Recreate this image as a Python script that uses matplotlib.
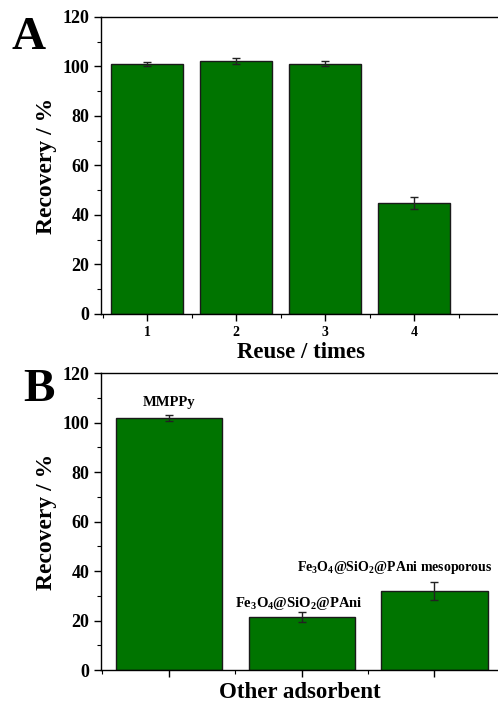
import matplotlib.pyplot as plt
import numpy as np
from matplotlib.ticker import MultipleLocator

plt.rcParams['font.family'] = 'Liberation Serif'
plt.rcParams['font.weight'] = 'bold'
plt.rcParams['mathtext.fontset'] = 'custom'
plt.rcParams['mathtext.bf'] = 'Liberation Serif:bold'
plt.rcParams['mathtext.rm'] = 'Liberation Serif:bold'
plt.rcParams['mathtext.default'] = 'bf'

# panel A data
reuse = [1, 2, 3, 4]
rec_a = [101.0, 102.0, 101.0, 45.0]
err_a = [0.8, 1.2, 1.0, 2.4]

# panel B data
adsorbents = ['MMPPy', r'Fe$_3$O$_4$@SiO$_2$@PAni', r'Fe$_3$O$_4$@SiO$_2$@PAni mesoporous']
rec_b = [102.0, 21.5, 32.0]
err_b = [1.2, 2.0, 3.8]

green = '#007400'

fig = plt.figure(figsize=(4.98, 7.04), dpi=100)

def style(ax):
    ax.set_ylim(0, 120)
    ax.yaxis.set_major_locator(MultipleLocator(20))
    ax.yaxis.set_minor_locator(MultipleLocator(10))
    ax.xaxis.set_minor_locator(MultipleLocator(0.5))
    ax.tick_params(which='major', direction='out', length=5, width=1, labelsize=13)
    ax.tick_params(which='minor', direction='out', length=3, width=0.8)
    for s in ax.spines.values():
        s.set_linewidth(1.0)
    ax.set_ylabel('Recovery / %', fontsize=17, fontweight='bold', labelpad=4)

# ---- A
ax1 = fig.add_axes([0.203, 0.554, 0.804, 0.422])
ax1.bar(reuse, rec_a, width=0.81, color=green, edgecolor='#1a1a1a', linewidth=1.0,
        yerr=err_a, capsize=3, error_kw=dict(ecolor='#222222', elinewidth=1, capthick=1))
ax1.set_xlim(0.48, 4.98)
style(ax1)
ax1.set_xticks(reuse)
ax1.tick_params(axis='x', which='major', labelsize=10)
ax1.set_xlabel('Reuse / times', fontsize=16.5, fontweight='bold', labelpad=2)
fig.text(0.024, 0.93, 'A', fontsize=34, fontweight='bold')

# ---- B
ax2 = fig.add_axes([0.203, 0.048, 0.80, 0.422])
xb = np.arange(1, len(rec_b) + 1)
ax2.bar(xb, rec_b, width=0.8, color=green, edgecolor='#1a1a1a', linewidth=1.0,
        yerr=err_b, capsize=3, error_kw=dict(ecolor='#222222', elinewidth=1, capthick=1))
ax2.set_xlim(0.49, 3.49)
style(ax2)
ax2.set_xticks(xb)
ax2.set_xticklabels([])
ax2.set_xlabel('Other adsorbent', fontsize=16.5, fontweight='bold', labelpad=0)
ax2.text(1, 108, adsorbents[0], ha='center', va='center', fontsize=10.5)
ax2.text(1.98, 27, adsorbents[1], ha='center', va='center', fontsize=10.5)
ax2.text(2.7, 41.6, adsorbents[2], ha='center', va='center', fontsize=10)
fig.text(0.046, 0.43, 'B', fontsize=34, fontweight='bold')

fig.savefig('out.png', dpi=100)
